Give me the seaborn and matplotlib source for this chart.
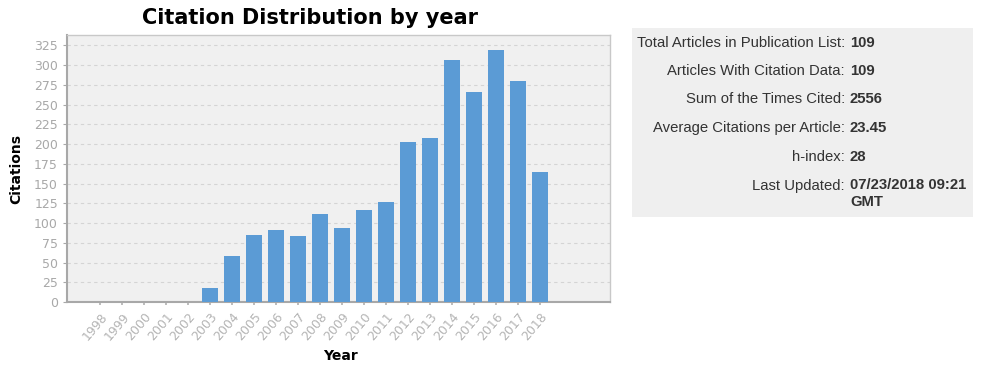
import matplotlib
matplotlib.use("Agg")
import matplotlib.pyplot as plt
import seaborn as sns
import pandas as pd

years = [str(y) for y in range(1998, 2019)]
citations = [0, 0, 0, 0, 0, 18, 58, 85, 91, 83, 111, 94, 117, 127, 202, 208, 306, 266, 319, 280, 164]
yticks = list(range(0, 326, 25))

stat_labels = ["Total Articles in Publication List:", "Articles With Citation Data:",
               "Sum of the Times Cited:", "Average Citations per Article:",
               "h-index:", "Last Updated:"]
stat_values = ["109", "109", "2556", "23.45", "28", "07/23/2018 09:21\nGMT"]

df = pd.DataFrame({"Year": years, "Citations": citations})

sns.set_theme(style="white")
plt.rcParams['font.family'] = ['DejaVu Sans']

fig = plt.figure(figsize=(9.81, 3.69), dpi=100)
W, H = 981, 369
ax = fig.add_axes([67 / W, 1 - 302 / H, (610 - 67) / W, (302 - 35) / H])
ax.set_facecolor("#f0f0f0")

sns.barplot(data=df, x="Year", y="Citations", color="#5b9bd5", saturation=1,
            width=0.72, ax=ax, zorder=3, linewidth=0, edgecolor="none")
ax.set_xlim(-1.5, 23.2)
ax.set_ylim(0, 338)
ax.set_yticks(yticks)
ax.yaxis.grid(True, linestyle=(0, (3, 3)), color="#d4d4d4", linewidth=0.8, zorder=0)
ax.xaxis.grid(False)
for s in ["top", "right"]:
    ax.spines[s].set_color("#c8c8c8")
    ax.spines[s].set_linewidth(1)
ax.spines["left"].set_color("#a8a8a8")
ax.spines["left"].set_linewidth(1.5)
ax.spines["bottom"].set_color("#a8a8a8")
ax.spines["bottom"].set_linewidth(1.5)
ax.tick_params(axis="y", colors="#a8a8a8", labelsize=9, length=3, width=0.8, left=True)
ax.tick_params(axis="x", colors="#b4b4b4", labelsize=9, length=2, bottom=True, pad=4)
plt.setp(ax.get_xticklabels(), rotation=50, ha="right", rotation_mode="anchor")
ax.set_xlabel("Year", fontsize=10, fontweight="bold", color="black", va="center")
ax.xaxis.set_label_coords((340 - 67) / (610 - 67), -(356 - 302) / (302 - 35))
ax.set_ylabel("Citations", fontsize=10, fontweight="bold", color="black", labelpad=8)
fig.text(310 / W, 1 - 18 / H, "Citation Distribution by year", ha="center", va="center",
         fontsize=15, fontweight="bold", color="black")

# stats panel
fig.patches.append(plt.Rectangle((632 / W, 1 - 217 / H), (973 - 632) / W, (217 - 28) / H,
                                 transform=fig.transFigure, facecolor="#efefef",
                                 edgecolor="none", zorder=0))
rows_y = [43, 71, 99, 128, 157, 186]
fam = ["Liberation Sans", "DejaVu Sans"]
for lab, val, yy in zip(stat_labels, stat_values, rows_y):
    fig.text(845 / W, 1 - yy / H, lab, ha="right", va="center", fontsize=10.7,
             family=fam, color="#333333")
    if "\n" in val:
        fig.text(850 / W, 1 - (yy - 8) / H, val, ha="left", va="top", fontsize=10.7,
                 fontweight="bold", family=fam, color="#333333", linespacing=1.3)
    else:
        fig.text(850 / W, 1 - yy / H, val, ha="left", va="center", fontsize=10.7,
                 fontweight="bold", family=fam, color="#333333")

fig.savefig("out.png", dpi=100)
